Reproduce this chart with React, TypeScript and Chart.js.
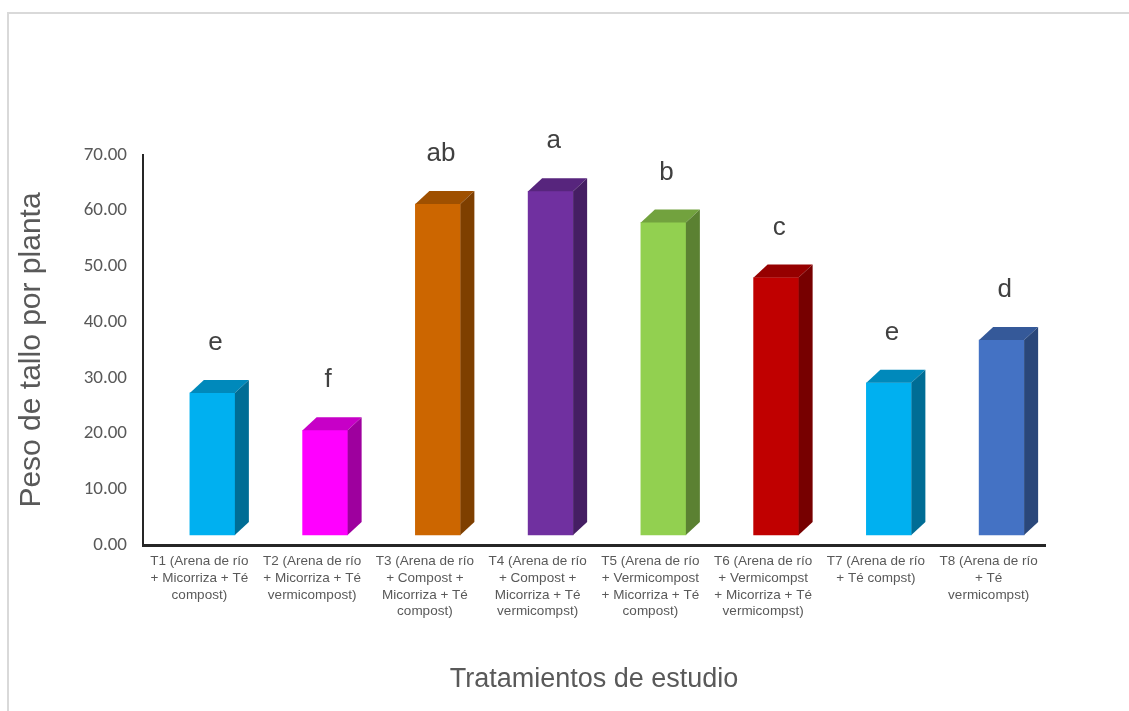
import React, { useEffect, useRef } from "react";
import { Chart, registerables } from "chart.js";

Chart.register(...registerables);

const categories: string[][] = [
  ["T1 (Arena de río", "+ Micorriza + Té", "compost)"],
  ["T2 (Arena de río", "+ Micorriza + Té", "vermicompost)"],
  ["T3 (Arena de río", "+ Compost +", "Micorriza + Té", "compost)"],
  ["T4 (Arena de río", "+ Compost +", "Micorriza + Té", "vermicompst)"],
  ["T5 (Arena de río", "+ Vermicompost", "+ Micorriza + Té", "compost)"],
  ["T6 (Arena de río", "+ Vermicompst", "+ Micorriza + Té", "vermicompst)"],
  ["T7 (Arena de río", "+ Té compst)"],
  ["T8 (Arena de río", "+ Té", "vermicompst)"],
];

const values: number[] = [27.3, 20.6, 61.2, 63.5, 57.9, 48.0, 29.1, 36.8];

const letters: string[] = ["e", "f", "ab", "a", "b", "c", "e", "d"];

const frontColors: string[] = [
  "#00B0F0",
  "#FF00FF",
  "#CC6600",
  "#7030A0",
  "#92D050",
  "#C00000",
  "#00B0F0",
  "#4472C4",
];

const yTicks: number[] = [0, 10, 20, 30, 40, 50, 60, 70];

function shade(hex: string, f: number): string {
  const n = parseInt(hex.slice(1), 16);
  const r = Math.round(((n >> 16) & 255) * f);
  const g = Math.round(((n >> 8) & 255) * f);
  const b = Math.round((n & 255) * f);
  return `rgb(${r},${g},${b})`;
}

const DEPTH_X = 14;
const DEPTH_Y = 13;
const SHIFT_X = 13;

const bar3d = {
  id: "bar3d",
  afterDatasetsUpdate(chart: any) {
    const meta = chart.getDatasetMeta(0);
    meta.data.forEach((el: any) => {
      el.x += SHIFT_X;
    });
  },
  afterDatasetsDraw(chart: any) {
    const ctx = chart.ctx;
    const meta = chart.getDatasetMeta(0);
    ctx.save();
    meta.data.forEach((el: any, i: number) => {
      const { x, y, base, width } = el.getProps(["x", "y", "base", "width"], true);
      const l = x - width / 2;
      const r = x + width / 2;
      const c = frontColors[i];
      // top face
      ctx.beginPath();
      ctx.moveTo(l, y);
      ctx.lineTo(r, y);
      ctx.lineTo(r + DEPTH_X, y - DEPTH_Y);
      ctx.lineTo(l + DEPTH_X, y - DEPTH_Y);
      ctx.closePath();
      ctx.fillStyle = shade(c, 0.78);
      ctx.fill();
      // side face
      ctx.beginPath();
      ctx.moveTo(r, y);
      ctx.lineTo(r + DEPTH_X, y - DEPTH_Y);
      ctx.lineTo(r + DEPTH_X, base - DEPTH_Y);
      ctx.lineTo(r, base);
      ctx.closePath();
      ctx.fillStyle = shade(c, 0.62);
      ctx.fill();
      // letter
      ctx.fillStyle = "#404040";
      ctx.font = "26px 'Liberation Sans', Arial, sans-serif";
      ctx.textAlign = "center";
      ctx.textBaseline = "middle";
      ctx.fillText(letters[i], x + 3, y - 50);
    });
    ctx.restore();
  },
};

export default function App() {
  const ref = useRef<HTMLCanvasElement | null>(null);

  useEffect(() => {
    if (!ref.current) return;
    const chart = new Chart(ref.current, {
      type: "bar",
      data: {
        labels: categories,
        datasets: [
          {
            data: values,
            backgroundColor: frontColors,
            borderWidth: 0,
            barThickness: 45,
            base: 1.8,
          } as any,
        ],
      },
      options: {
        responsive: false,
        animation: false,
        events: [],
        layout: { padding: { left: 14, top: 155, right: 84, bottom: 0 } },
        plugins: {
          legend: { display: false },
          tooltip: { enabled: false },
        },
        scales: {
          x: {
            grid: { display: false, drawTicks: false },
            border: { display: true, color: "#262626", width: 3 },
            afterFit(scale: any) {
              scale.height = 711 - 545;
            },
            ticks: {
              color: "#595959",
              padding: 8,
              maxRotation: 0,
              autoSkip: false,
              font: {
                family: "'Liberation Sans Narrow', 'Arial Narrow', 'Liberation Sans', sans-serif",
                size: 13.5,
                lineHeight: 1.24,
              },
            },
            title: {
              display: true,
              text: "Tratamientos de estudio",
              color: "#595959",
              padding: { top: 0, bottom: 15 },
              font: { family: "'Liberation Sans', Arial, sans-serif", size: 27, lineHeight: 1.2 },
            },
          },
          y: {
            min: 0,
            max: 70,
            grid: { display: false, drawTicks: false },
            border: { display: true, color: "#262626", width: 2 },
            afterFit(scale: any) {
              scale.width = 143 - 14;
            },
            afterBuildTicks(scale: any) {
              scale.ticks = yTicks.map((v) => ({ value: v }));
            },
            ticks: {
              color: "#595959",
              padding: 16,
              callback: (v: any) => Number(v).toFixed(2),
              font: { family: "Carlito, Lato, sans-serif", size: 19 },
            },
            title: {
              display: true,
              text: "Peso de tallo por planta",
              color: "#595959",
              padding: { top: 0, bottom: 0 },
              font: { family: "'Liberation Sans', Arial, sans-serif", size: 30, lineHeight: 1.2 },
            },
          },
        },
      },
      plugins: [bar3d],
    });
    return () => chart.destroy();
  }, []);

  return (
    <div>
      <div
        style={{
          position: "fixed",
          left: 7,
          top: 12,
          width: 1200,
          height: 800,
          border: "2px solid #d9d9d9",
          boxSizing: "border-box",
        }}
      />
      <canvas
        ref={ref}
        width={1129}
        height={711}
        style={{ position: "fixed", left: 0, top: 0, width: 1129, height: 711 }}
      />
    </div>
  );
}
